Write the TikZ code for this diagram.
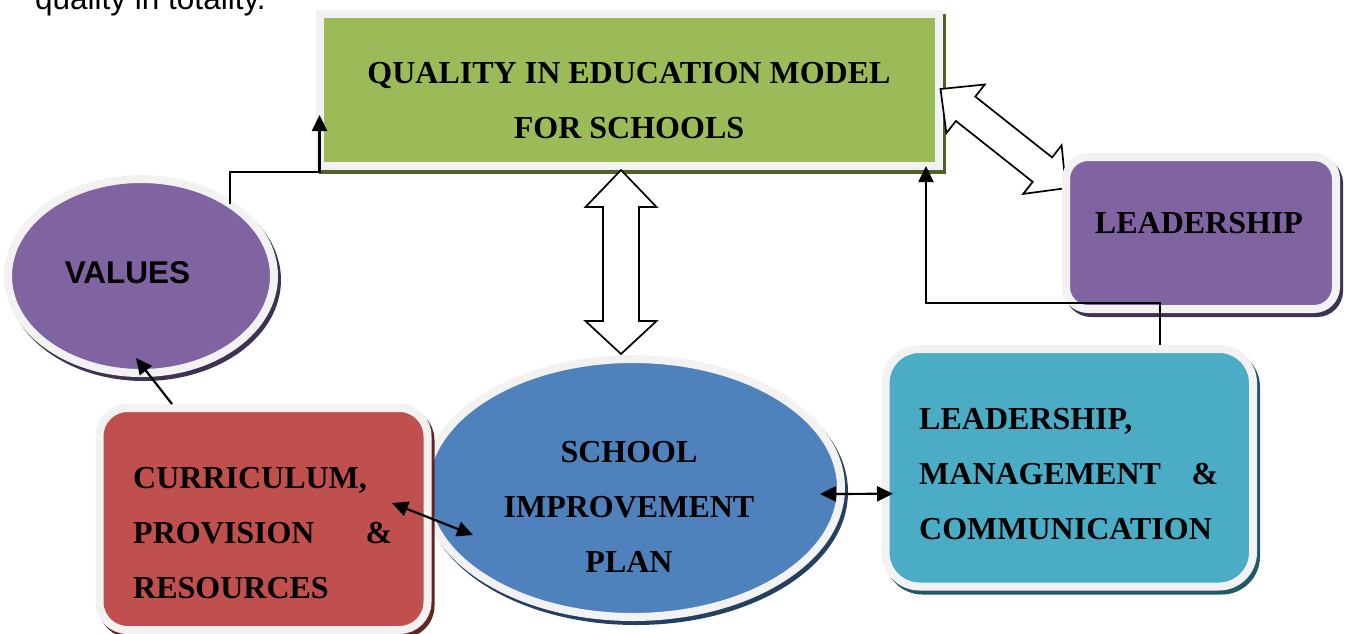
\documentclass[tikz,border=0pt]{standalone}
\usepackage{fontspec}
\setmainfont{Liberation Serif}
\newfontfamily\arialfam{Liberation Sans}
\usetikzlibrary{arrows.meta,calc,shapes.geometric}

\definecolor{ringgray}{HTML}{F2F2F2}
\definecolor{qgreen}{HTML}{9BBB59}
\definecolor{qgreenD}{HTML}{4F6228}
\definecolor{vpurple}{HTML}{8064A2}
\definecolor{vpurpleD}{HTML}{3F3151}
\definecolor{sblue}{HTML}{4F81BD}
\definecolor{sblueD}{HTML}{244061}
\definecolor{cred}{HTML}{C0504D}
\definecolor{credD}{HTML}{632523}
\definecolor{lteal}{HTML}{4BACC6}
\definecolor{ltealD}{HTML}{215968}

\begin{document}
\begin{tikzpicture}[x=1pt,y=-1pt,
  shp/.style={outer sep=0pt, inner sep=0pt, line width=8pt, draw=ringgray, fill=#1},
  shadowed/.style={preaction={draw=#1, fill=#1, line width=8pt,
      transform canvas={shift={(3pt,-4pt)}}}},
  lbl/.style={font=\bfseries\fontsize{32}{55}\selectfont, inner sep=0pt, text=black},
  conn/.style={line width=2.2pt, draw=black, line join=miter},
  tip/.style={-{Triangle[length=16pt,width=15pt]}},
  both/.style={{Triangle[length=16pt,width=15pt]}-{Triangle[length=16pt,width=15pt]}},
  blk/.style={draw=black, fill=white, line width=1.7pt, line join=miter},
]
\useasboundingbox (0,0) rectangle (1347,633);
\clip (0,0) rectangle (1347,633);

% running text above the figure
\node[font=\arialfam\fontsize{31.5}{38}\selectfont, inner sep=0pt, anchor=base west]
  (ttxt) at (35,9.5) {quality in totality.};

% central model box
\node[shp=qgreen, shadowed=qgreenD, rectangle, minimum width=619pt, minimum height=152pt]
  (quality) at (629,90) {};

% wide two-headed arrow to LEADERSHIP (passes under that box)
\coordinate (dt) at ($(quality.east)+(2,-1)$);
\begin{scope}[shift={(dt)}]
  \draw[blk] (0,0) -- (44.3,-4.5) -- (34.8,7.6) -- (111.6,68.4) -- (121.1,56.3)
    -- (125.4,99.2) -- (82.7,104.9) -- (92.2,92.8) -- (15.4,32.0) -- (5.9,44.1) -- cycle;
\end{scope}

% surrounding elements
\node[shp=vpurple, shadowed=vpurpleD, rectangle, rounded corners=22pt,
  minimum width=270pt, minimum height=152pt] (lead) at (1201,233) {};
\node[shp=vpurple, shadowed=vpurpleD, ellipse,
  minimum width=266pt, minimum height=194pt] (values) at (141,276) {};
\node[shp=sblue, shadowed=sblueD, ellipse,
  minimum width=416pt, minimum height=258pt] (school) at (633,488) {};
\node[shp=cred, shadowed=credD, rectangle, rounded corners=28pt,
  minimum width=328pt, minimum height=222pt] (curr) at (263.5,519) {};
\node[shp=lteal, shadowed=ltealD, rectangle, rounded corners=34pt,
  minimum width=367.5pt, minimum height=237.5pt] (lmc) at (1069.25,467.75) {};

% wide two-headed arrow between the model and the plan
\coordinate (va) at ($(quality.south)+(-8,4)$);
\coordinate (vb) at ($(school.north)+(-12,-5)$);
\draw[blk] (va) -- ($(va)+(35.5,37)$) -- ($(va)+(18,37)$) -- ($(vb)+(18,-33)$)
  -- ($(vb)+(35.5,-33)$) -- (vb) -- ($(vb)+(-35.5,-33)$) -- ($(vb)+(-18,-33)$)
  -- ($(va)+(-18,37)$) -- ($(va)+(-35.5,37)$) -- cycle;

% connectors
\draw[conn, tip] (values.39) |- ($(quality.west)+(0,82)$) -- ($(quality.west)+(0,25)$);
\draw[conn, tip] ($(lmc.north)+(91,-4)$) |- ($(quality.south east)+(-12.5,137)$)
  -- ($(quality.south east)+(-12.5,0)$);
\draw[conn, tip] ($(curr.north west)+(72.5,-4)$) -- ($(values.south)+(-5,-15)$);
\draw[conn, both] ($(curr.east)+(-35.5,-16)$) -- ($(school.west)+(48,47)$);
\draw[conn, both] ($(school.east)+(-21,6)$) -- ($(lmc.west)+(7.5,26)$);

% labels
\node[lbl, anchor=base] (qtxt) at (629,83.5)
  {\fontsize{32}{54.5}\selectfont\begin{tabular}[t]{@{}c@{}}QUALITY IN EDUCATION MODEL\\FOR SCHOOLS\end{tabular}};
\node[lbl, anchor=base] (leadtxt) at (1199,233) {LEADERSHIP};
\node[font=\arialfam\bfseries\fontsize{31.5}{38}\selectfont, inner sep=0pt, anchor=base]
  (vtxt) at (127.5,283) {VALUES};
\node[lbl, anchor=base] (stxt) at (629,462)
  {\begin{tabular}[t]{@{}c@{}}SCHOOL\\IMPROVEMENT\\PLAN\end{tabular}};
\node[lbl, anchor=base west] (ctxt) at (133,488)
  {\begin{tabular}[t]{@{}l@{}}CURRICULUM,\\\makebox[259pt]{PROVISION\hfill\&}\\RESOURCES\end{tabular}};
\node[lbl, anchor=base west] (ltxt) at (919,429)
  {\begin{tabular}[t]{@{}l@{}}LEADERSHIP,\\\makebox[299pt]{MANAGEMENT\hfill\&}\\COMMUNICATION\end{tabular}};
\end{tikzpicture}
\end{document}
